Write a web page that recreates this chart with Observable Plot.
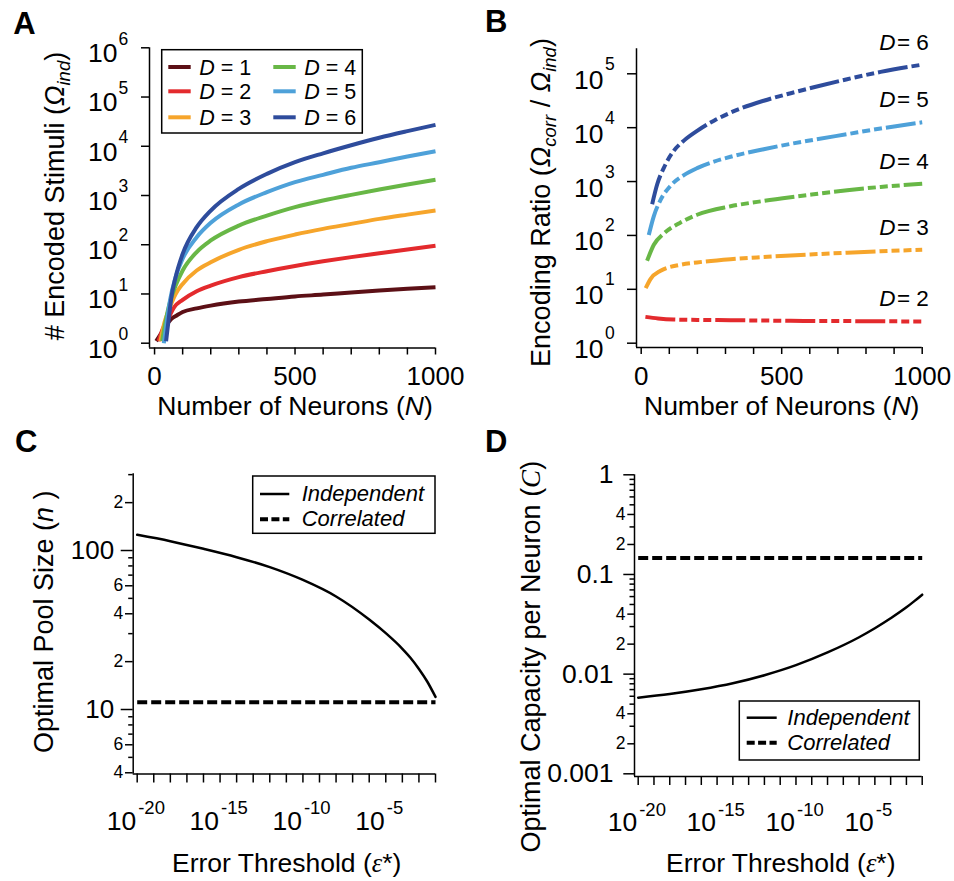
<!DOCTYPE html>
<html>
<head>
<meta charset="utf-8">
<script src="https://cdn.jsdelivr.net/npm/d3@7"></script>
<script src="https://cdn.jsdelivr.net/npm/@observablehq/plot@0.6"></script>
<style>
  html, body { margin: 0; padding: 0; background: #fff; }
  #fig { position: relative; width: 954px; height: 881px; overflow: hidden; background: #fff; }
  #fig svg { position: absolute; overflow: visible; }
</style>
</head>
<body>
<div id="fig"></div>
<script>
const FONT = "'Liberation Sans', Arial, Helvetica, sans-serif";
const SERIF = "'Liberation Serif', 'Times New Roman', serif";

// ================= DATA =================
// Panel A — # encoded stimuli, independent code
const dims = [1, 2, 3, 4, 5, 6];
const dimColors = ["#5c1016", "#e32a2d", "#f6a52b", "#68b746", "#4ea1d9", "#2e4c9c"];
const aNeuronTicks = [0, 100, 200, 300, 400, 500, 600, 700, 800, 900, 1000];
const aNeuronLabels = [0, 500, 1000];
const aExponents = [0, 1, 2, 3, 4, 5, 6];

const aN1 = [6, 30, 59, 80, 100, 150, 200, 300, 400, 500, 600, 700, 800, 900, 1000];
const aOmega1 = [1.1, 1.8, 3.1, 3.7, 4.3, 5.1, 5.8, 7.0, 7.9, 8.9, 9.7, 10.7, 11.7, 12.7, 13.7];
const aN2 = [14, 25, 35, 50, 70, 100, 150, 200, 300, 400, 500, 600, 700, 800, 900, 1000];
const aOmega2 = [1.1, 1.7, 2.3, 3.3, 5.4, 7.6, 11.4, 14.8, 22, 29, 37, 46, 56, 67, 80, 95];
const aN3 = [21, 35, 50, 75, 100, 150, 200, 300, 400, 500, 600, 700, 800, 900, 1000];
const aOmega3 = [1.1, 2.6, 4.6, 10, 16, 30, 44, 79, 118, 161, 210, 265, 335, 409, 495];
const aN4 = [27, 40, 50, 75, 100, 150, 200, 300, 400, 500, 600, 700, 800, 900, 1000];
const aOmega4 = [1.1, 2.9, 5.4, 14.8, 30, 71, 122, 245, 390, 580, 790, 1030, 1320, 1670, 2080];
const aN5 = [33, 45, 55, 75, 100, 150, 200, 300, 400, 500, 600, 700, 800, 900, 1000];
const aOmega5 = [1.0, 3.1, 7.4, 22, 52, 142, 279, 660, 1170, 1870, 2630, 3650, 4750, 6200, 7940];
const aN6 = [41, 50, 60, 75, 100, 150, 200, 300, 400, 500, 600, 700, 800, 900, 1000];
const aOmega6 = [1.1, 3.0, 8.6, 22, 65, 227, 495, 1365, 2750, 4750, 7200, 10500, 14900, 20300, 27200];

// Panel B — encoding ratio (correlated / independent)
const bExponents = [0, 1, 2, 3, 4, 5];
const bN2 = [15, 60, 116, 200, 318, 436, 532, 614, 733, 852, 1000];
const bRatio2 = [3.08, 2.88, 2.75, 2.7, 2.67, 2.63, 2.6, 2.58, 2.57, 2.55, 2.53];
const bN3 = [16, 33, 69, 140, 199, 318, 436, 532, 614, 733, 852, 1000];
const bRatio3 = [10.5, 15.5, 22.1, 28.5, 31.5, 36.3, 39.8, 42.5, 44.7, 47.9, 50.9, 54.3];
const bN4 = [21, 45, 81, 140, 199, 318, 436, 532, 614, 733, 852, 1000];
const bRatio4 = [33.8, 67, 109, 174, 242, 347, 437, 513, 582, 692, 794, 912];
const bN5 = [27, 45, 69, 104, 152, 199, 259, 318, 436, 532, 614, 733, 852, 1000];
const bRatio5 = [102, 229, 457, 832, 1318, 1778, 2344, 2884, 3981, 5012, 5957, 7586, 9661, 12590];
const bN6 = [39, 57, 81, 116, 152, 199, 259, 318, 436, 532, 614, 733, 852, 1000];
const bRatio6 = [380, 890, 1820, 3720, 5750, 8710, 13490, 19050, 31620, 43650, 56230, 79430, 108400, 147900];

// Panels C & D — error threshold axis
const epsExponents = [-20, -19, -18, -17, -16, -15, -14, -13, -12, -11, -10, -9, -8, -7, -6, -5, -4, -3, -2];
const epsLabelExponents = [-20, -15, -10, -5];

// Panel C — optimal pool size
const cEps = [1e-20, 1e-18, 1e-16, 1e-14, 1e-12, 1e-10, 1e-8, 1e-6, 1e-5, 1e-4, 3.16e-4, 1e-3, 3.16e-3, 1e-2];
const cPoolIndependent = [125.5, 114.5, 102.5, 90.8, 78.6, 65.3, 51.4, 36.8, 30.2, 24.1, 21.1, 18.0, 15.0, 12.0];
const cEpsCorrelated = [1e-20, 1e-2];
const cPoolCorrelated = [11.1, 11.1];
const cMajorTicks = [10, 100];
const cMajorLabels = ["10", "100"];
const cLabeledMinorTicks = [4, 6, 20, 40, 60, 200];
const cLabeledMinorText = ["4", "6", "2", "4", "6", "2"];
const cMinorTicks = [5, 7, 8, 9, 30, 50, 70, 80, 90, 300];

// Panel D — optimal capacity per neuron
const dEps = [1e-20, 1e-18, 1e-16, 1e-14, 1e-12, 1e-10, 1e-8, 1e-6, 1e-5, 1e-4, 1e-3, 3.16e-3, 1e-2];
const dCapIndependent = [0.00581, 0.00632, 0.00705, 0.0081, 0.00975, 0.0123, 0.0165, 0.02344, 0.02884, 0.03631, 0.04677, 0.0540, 0.0627];
const dEpsCorrelated = [1e-20, 1e-2];
const dCapCorrelated = [0.146, 0.146];
const dMajorTicks = [0.001, 0.01, 0.1, 1];
const dMajorLabels = ["0.001", "0.01", "0.1", "1"];
const dLabeledMinorTicks = [0.002, 0.004, 0.02, 0.04, 0.2, 0.4];
const dLabeledMinorText = ["2", "4", "2", "4", "2", "4"];
const dMinorTicks = [0.003, 0.005, 0.006, 0.007, 0.008, 0.009, 0.03, 0.05, 0.06, 0.07, 0.08, 0.09, 0.3, 0.5, 0.6, 0.7, 0.8, 0.9];

// ================= HELPERS =================
const fig = document.getElementById("fig");
const baseStyle = {fontFamily: FONT, fontSize: "25px", color: "black", background: "none", overflow: "visible"};
const AXW = 1.5;
const TITLE = 26.5;

function place(svg, left, top) {
  svg.style.position = "absolute";
  svg.style.left = left + "px";
  svg.style.top = top + "px";
  svg.style.maxWidth = "none";
  fig.appendChild(svg);
  return svg;
}
function rich(svg, x, y, parts, {rotate = 0, anchor = "middle", size = TITLE, weight = null} = {}) {
  const t = d3.select(svg).append("text")
    .attr("transform", `translate(${x},${y})` + (rotate ? ` rotate(${rotate})` : ""))
    .attr("text-anchor", anchor)
    .attr("font-family", FONT)
    .attr("font-size", size)
    .attr("fill", "black")
    .style("white-space", "pre");
  if (weight) t.attr("font-weight", weight);
  for (const p of parts) {
    const s = typeof p === "string" ? {t: p} : p;
    const ts = t.append("tspan").text(s.t);
    if (s.i) ts.attr("font-style", "italic");
    if (s.f) ts.attr("font-family", s.f);
    if (s.s) ts.attr("font-size", s.s);
    if (s.dy) ts.attr("dy", s.dy);
  }
  return t;
}
function tickAxisX(ticks, size) {
  return Plot.axisX({ticks, tickSize: size, tickFormat: () => "", label: null, strokeWidth: AXW, fill: "none"});
}
function tickAxisY(ticks, size) {
  return Plot.axisY({ticks, tickSize: size, tickFormat: () => "", label: null, strokeWidth: AXW, fill: "none"});
}
function seriesRows(Ds, Ns, Vs) {
  return Ds.flatMap((D, i) => Ns[i].map((N, j) => ({D, N, v: Vs[i][j]})));
}

// ================= PANEL A =================
const aRows = seriesRows(dims, [aN1, aN2, aN3, aN4, aN5, aN6], [aOmega1, aOmega2, aOmega3, aOmega4, aOmega5, aOmega6]);
const aXDomain = [-18, 1000];
const aYDomain = [10 ** -0.0975, 1e6];
const aYTicks = aExponents.map(e => 10 ** e);
const svgA = place(Plot.plot({
  width: 477, height: 420,
  marginLeft: 149, marginRight: 42, marginTop: 47.3, marginBottom: 72.5,
  x: {domain: aXDomain},
  y: {type: "log", domain: aYDomain},
  color: {type: "ordinal", domain: dims, range: dimColors},
  style: baseStyle,
  marks: [
    Plot.ruleX([aXDomain[0]], {stroke: "black", strokeWidth: AXW}),
    Plot.ruleY([aYDomain[0]], {stroke: "black", strokeWidth: AXW}),
    tickAxisX(aNeuronTicks, 7),
    tickAxisY(aYTicks, 8),
    Plot.text(aNeuronLabels, {x: d => d, frameAnchor: "bottom", dy: 37, lineAnchor: "bottom", text: d => String(d), fontSize: 26}),
    Plot.text(aYTicks, {y: d => d, frameAnchor: "left", dx: -32, dy: 14.4, textAnchor: "end", lineAnchor: "bottom", text: () => "10", fontSize: 26.5}),
    Plot.text(aYTicks, {y: d => d, frameAnchor: "left", dx: -31, dy: -3.3, textAnchor: "start", lineAnchor: "bottom", text: (d, i) => String(aExponents[i]), fontSize: 17.5}),
    Plot.line(aRows, {x: "N", y: "v", z: "D", stroke: "D", strokeWidth: 4, curve: "monotone-x", strokeLinecap: "butt"})
  ]
}), 0, 0);

// legend A
{
  const g = d3.select(svgA);
  g.append("rect").attr("x", 161.7).attr("y", 49.7).attr("width", 200.6).attr("height", 83.3)
    .attr("fill", "white").attr("stroke", "black").attr("stroke-width", AXW);
  const rowsY = [67, 91.3, 117.3];
  dims.forEach((D, i) => {
    const lx = i < 3 ? 168.3 : 273.3;
    const ly = rowsY[i % 3];
    g.append("line").attr("x1", lx).attr("x2", lx + 22.4).attr("y1", ly).attr("y2", ly)
      .attr("stroke", dimColors[i]).attr("stroke-width", 4);
    rich(svgA, lx + 31, ly + 7.5, [{t: "D", i: true}, " = " + D], {anchor: "start", size: 21.5});
  });
}
rich(svgA, 13.3, 34, ["A"], {anchor: "start", size: 31, weight: "bold"});
rich(svgA, 63.5, 196, ["# Encoded Stimuli (", {t: "Ω", i: true}, {t: "ind", i: true, s: 18.5, dy: 6}, {t: ")", dy: -6}], {rotate: -90, size: 27});
rich(svgA, 295, 414.5, ["Number of Neurons (", {t: "N", i: true}, ")"]);

// ================= PANEL B =================
const bDims = [2, 3, 4, 5, 6];
const bNs = [bN2, bN3, bN4, bN5, bN6];
const bVs = [bRatio2, bRatio3, bRatio4, bRatio5, bRatio6];
const bRows = seriesRows(bDims, bNs, bVs);
const bEnds = bDims.map((D, i) => ({D, N: bNs[i][bNs[i].length - 1], v: bVs[i][bVs[i].length - 1]}));
const bXDomain = [-16.7, 1000];
const bYDomain = [10 ** -0.08, 10 ** 5.464];
const bYTicks = bExponents.map(e => 10 ** e);
const svgB = place(Plot.plot({
  width: 477, height: 420,
  marginLeft: 159, marginRight: 32.3, marginTop: 48.3, marginBottom: 73,
  x: {domain: bXDomain},
  y: {type: "log", domain: bYDomain},
  color: {type: "ordinal", domain: dims, range: dimColors},
  style: baseStyle,
  marks: [
    Plot.ruleX([bXDomain[0]], {stroke: "black", strokeWidth: AXW}),
    Plot.ruleY([bYDomain[0]], {stroke: "black", strokeWidth: AXW}),
    tickAxisX(aNeuronTicks, 7),
    tickAxisY(bYTicks, 9),
    Plot.text(aNeuronLabels, {x: d => d, frameAnchor: "bottom", dy: 37, lineAnchor: "bottom", text: d => String(d), fontSize: 26}),
    Plot.text(bYTicks, {y: d => d, frameAnchor: "left", dx: -33, dy: 15, textAnchor: "end", lineAnchor: "bottom", text: () => "10", fontSize: 26.5}),
    Plot.text(bYTicks, {y: d => d, frameAnchor: "left", dx: -31.5, dy: -4, textAnchor: "start", lineAnchor: "bottom", text: (d, i) => String(bExponents[i]), fontSize: 17.5}),
    Plot.line(bRows, {x: "N", y: "v", z: "D", stroke: "D", strokeWidth: 4, curve: "monotone-x", strokeLinecap: "butt", strokeDasharray: "30,4,8,4,8,4,8,4"}),
    Plot.text(bEnds, {x: "N", y: "v", text: d => "= " + d.D, textAnchor: "end", lineAnchor: "bottom", dx: 6.6, dy: -15, fontSize: 22.5}),
    Plot.text(bEnds, {x: "N", y: "v", text: () => "D", fontStyle: "italic", textAnchor: "end", lineAnchor: "bottom", dx: -26.6, dy: -15, fontSize: 22.5})
  ]
}), 477, 0);
rich(svgB, 8, 32.3, ["B"], {anchor: "start", size: 31, weight: "bold"});
rich(svgB, 73, 202.5, ["Encoding Ratio (", {t: "Ω", i: true}, {t: "corr", i: true, s: 18.5, dy: 6}, {t: " / ", dy: -6}, {t: "Ω", i: true}, {t: "ind", i: true, s: 18.5, dy: 6}, {t: ")", dy: -6}], {rotate: -90, size: 27});
rich(svgB, 304.7, 414.5, ["Number of Neurons (", {t: "N", i: true}, ")"]);

// ================= PANEL C =================
const epsTicks = epsExponents.map(e => 10 ** e);
const epsLabelTicks = epsLabelExponents.map(e => 10 ** e);
const cXDomain = [10 ** -20.241, 1e-2];
const cYDomain = [3.93, 303.7];
const cIndep = cEps.map((e, i) => ({e, v: cPoolIndependent[i]}));
const cCorr = cEpsCorrelated.map((e, i) => ({e, v: cPoolCorrelated[i]}));
const svgC = place(Plot.plot({
  width: 477, height: 461,
  marginLeft: 132.7, marginRight: 42, marginTop: 53.3, marginBottom: 107.5,
  x: {type: "log", domain: cXDomain},
  y: {type: "log", domain: cYDomain},
  style: baseStyle,
  marks: [
    Plot.ruleX([cXDomain[0]], {stroke: "black", strokeWidth: AXW}),
    Plot.ruleY([cYDomain[0]], {stroke: "black", strokeWidth: AXW}),
    tickAxisX(epsTicks, 9),
    tickAxisY(cMajorTicks, 12),
    tickAxisY(cLabeledMinorTicks, 7.7),
    tickAxisY(cMinorTicks, 4.5),
    Plot.text(cMajorTicks, {y: d => d, frameAnchor: "left", dx: -19, textAnchor: "end", lineAnchor: "middle", text: (d, i) => cMajorLabels[i], fontSize: 26}),
    Plot.text(cLabeledMinorTicks, {y: d => d, frameAnchor: "left", dx: -10, textAnchor: "end", lineAnchor: "middle", text: (d, i) => cLabeledMinorText[i], fontSize: 17.5}),
    Plot.text(epsLabelTicks, {x: d => d, frameAnchor: "bottom", dx: -1, dy: 55.5, textAnchor: "end", lineAnchor: "bottom", text: () => "10", fontSize: 26.5}),
    Plot.text(epsLabelTicks, {x: d => d, frameAnchor: "bottom", dx: 1, dy: 39.8, textAnchor: "start", lineAnchor: "bottom", text: (d, i) => String(epsLabelExponents[i]), fontSize: 18.5}),
    Plot.line(cIndep, {x: "e", y: "v", stroke: "black", strokeWidth: 2.5, curve: "monotone-x"}),
    Plot.line(cCorr, {x: "e", y: "v", stroke: "black", strokeWidth: 4, strokeDasharray: "10,4", strokeLinecap: "butt"})
  ]
}), 0, 420);
{
  const g = d3.select(svgC);
  g.append("rect").attr("x", 252.7).attr("y", 56).attr("width", 182.3).attr("height", 57.3)
    .attr("fill", "white").attr("stroke", "black").attr("stroke-width", AXW);
  g.append("line").attr("x1", 260).attr("x2", 289.3).attr("y1", 74).attr("y2", 74).attr("stroke", "black").attr("stroke-width", 2.5);
  g.append("line").attr("x1", 260).attr("x2", 289.3).attr("y1", 99.3).attr("y2", 99.3).attr("stroke", "black").attr("stroke-width", 4).attr("stroke-dasharray", "8,3.4");
  rich(svgC, 301.7, 81, [{t: "Independent", i: true}], {anchor: "start", size: 22});
  rich(svgC, 301.7, 106, [{t: "Correlated", i: true}], {anchor: "start", size: 22});
}
rich(svgC, 15, 31.7, ["C"], {anchor: "start", size: 31, weight: "bold"});
rich(svgC, 53, 201.7, ["Optimal Pool Size (", {t: "n", i: true}, " )"], {rotate: -90, size: 27});
rich(svgC, 286.7, 452.3, ["Error Threshold (", {t: "ε", i: true, f: SERIF}, "*)"]);

// ================= PANEL D =================
const dXDomain = [10 ** -20.234, 1e-2];
const dYDomain = [10 ** -3.027, 1];
const dIndep = dEps.map((e, i) => ({e, v: dCapIndependent[i]}));
const dCorr = dEpsCorrelated.map((e, i) => ({e, v: dCapCorrelated[i]}));
const svgD = place(Plot.plot({
  width: 477, height: 461,
  marginLeft: 157, marginRight: 32.3, marginTop: 54.3, marginBottom: 105,
  x: {type: "log", domain: dXDomain},
  y: {type: "log", domain: dYDomain},
  style: baseStyle,
  marks: [
    Plot.ruleX([dXDomain[0]], {stroke: "black", strokeWidth: AXW}),
    Plot.ruleY([dYDomain[0]], {stroke: "black", strokeWidth: AXW}),
    tickAxisX(epsTicks, 9),
    tickAxisY(dMajorTicks, 10.7),
    tickAxisY(dLabeledMinorTicks, 6.7),
    tickAxisY(dMinorTicks, 4.5),
    Plot.text(dMajorTicks, {y: d => d, frameAnchor: "left", dx: -21, textAnchor: "end", lineAnchor: "middle", text: (d, i) => dMajorLabels[i], fontSize: 26.5}),
    Plot.text(dLabeledMinorTicks, {y: d => d, frameAnchor: "left", dx: -9, textAnchor: "end", lineAnchor: "middle", text: (d, i) => dLabeledMinorText[i], fontSize: 17.5}),
    Plot.text(epsLabelTicks, {x: d => d, frameAnchor: "bottom", dx: -1, dy: 54.7, textAnchor: "end", lineAnchor: "bottom", text: () => "10", fontSize: 26.5}),
    Plot.text(epsLabelTicks, {x: d => d, frameAnchor: "bottom", dx: 1, dy: 39, textAnchor: "start", lineAnchor: "bottom", text: (d, i) => String(epsLabelExponents[i]), fontSize: 18.5}),
    Plot.line(dIndep, {x: "e", y: "v", stroke: "black", strokeWidth: 2.5, curve: "monotone-x"}),
    Plot.line(dCorr, {x: "e", y: "v", stroke: "black", strokeWidth: 4, strokeDasharray: "10,4", strokeLinecap: "butt"})
  ]
}), 477, 420);
{
  const g = d3.select(svgD);
  g.append("rect").attr("x", 262.3).attr("y", 281).attr("width", 180).attr("height", 59)
    .attr("fill", "white").attr("stroke", "black").attr("stroke-width", AXW);
  g.append("line").attr("x1", 269.7).attr("x2", 299.7).attr("y1", 297.7).attr("y2", 297.7).attr("stroke", "black").attr("stroke-width", 2.5);
  g.append("line").attr("x1", 269.7).attr("x2", 299.7).attr("y1", 322.7).attr("y2", 322.7).attr("stroke", "black").attr("stroke-width", 4).attr("stroke-dasharray", "8,3.4");
  rich(svgD, 310.3, 305, [{t: "Independent", i: true}], {anchor: "start", size: 22});
  rich(svgD, 310.3, 330, [{t: "Correlated", i: true}], {anchor: "start", size: 22});
}
rich(svgD, 8, 31.7, ["D"], {anchor: "start", size: 31, weight: "bold"});
rich(svgD, 62.5, 236.7, ["Optimal Capacity per Neuron (", {t: "C", i: true, f: SERIF}, ")"], {rotate: -90, size: 27});
rich(svgD, 303.8, 452.3, ["Error Threshold (", {t: "ε", i: true, f: SERIF}, "*)"]);
</script>
</body>
</html>
